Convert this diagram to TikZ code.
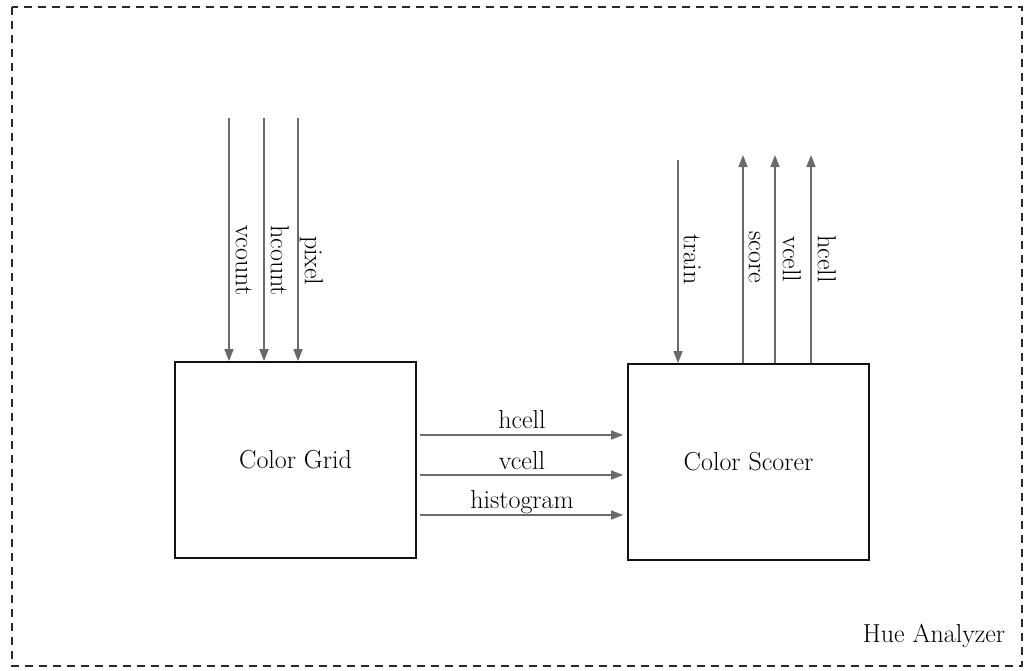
\documentclass[tikz,border=0pt]{standalone}
\usetikzlibrary{arrows.meta}
\definecolor{arrgray}{HTML}{6A6A6A}
\definecolor{boxline}{HTML}{111111}
\definecolor{framecol}{HTML}{2A2A2A}
\begin{document}
\begin{tikzpicture}[x=1pt,y=-1pt,
  font=\fontsize{26}{30}\selectfont,
  arr/.style={draw=arrgray, line width=1.6pt, -{Triangle[length=12pt,width=9pt,fill=arrgray]}},
  box/.style={draw=boxline, line width=1.7pt, minimum width=241pt, minimum height=196pt, inner sep=0pt},
  vlab/.style={rotate=-90, anchor=south, inner sep=6pt, text depth=0pt, text=black},
  hlab/.style={anchor=south, inner sep=6pt, text depth=0pt, text=black},
  framebox/.style={draw=framecol, line width=1.6pt, dash pattern=on 8pt off 6pt}]
\useasboundingbox (0,0) rectangle (1025,670);
% frame
\coordinate (fa) at (12,7);
\coordinate (fb) at (1022,666);
\draw[framebox] (fa) rectangle (fb);
% boxes
\node[box] (grid) at (295.5,460) {Color Grid};
\node[box] (scorer) at (748.5,462) {Color Scorer};
% inputs to grid
\coordinate (vc) at (229,118);
\coordinate (hc) at (264,118);
\coordinate (px) at (298,118);
\draw[arr] (vc) -- (vc |- grid.north) node[vlab, pos=0.587] {vcount};
\draw[arr] (hc) -- (hc |- grid.north) node[vlab, pos=0.587] {hcount};
\draw[arr] (px) -- (px |- grid.north) node[vlab, pos=0.587] {pixel};
% scorer top
\coordinate (tr) at (678,160);
\coordinate (sc) at (743,155);
\coordinate (vo) at (775,155);
\coordinate (ho) at (811,155);
\draw[arr] (tr) -- (tr |- scorer.north) node[vlab, pos=0.49, inner sep=5pt] {train};
\draw[arr] (sc |- scorer.north) -- (sc) node[vlab, pos=0.51, inner sep=5pt] {score};
\draw[arr] (vo |- scorer.north) -- (vo) node[vlab, pos=0.5, inner sep=7pt] {vcell};
\draw[arr] (ho |- scorer.north) -- (ho) node[vlab, pos=0.5, inner sep=6pt] {hcell};
% grid to scorer
\coordinate (h1) at (0,435);
\coordinate (h2) at (0,475);
\coordinate (h3) at (0,515);
\draw[arr, shorten <=3pt, shorten >=4pt] (grid.east |- h1) -- (scorer.west |- h1) node[hlab, pos=0.5] {hcell};
\draw[arr, shorten <=3pt, shorten >=4pt] (grid.east |- h2) -- (scorer.west |- h2) node[hlab, pos=0.5, inner sep=5pt] {vcell};
\draw[arr, shorten <=3pt, shorten >=4pt] (grid.east |- h3) -- (scorer.west |- h3) node[hlab, pos=0.5] {histogram};
% title
\node[anchor=base, inner sep=0pt, text=black] (title) at (934,642) {Hue Analyzer};
\end{tikzpicture}
\end{document}
